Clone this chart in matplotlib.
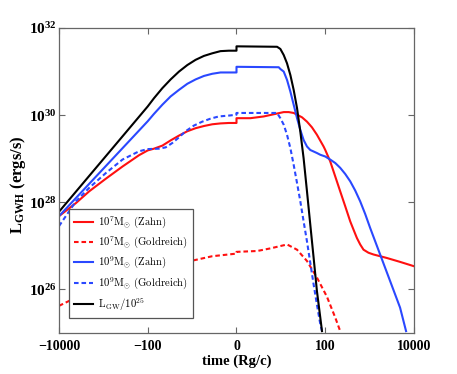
import numpy as np
import matplotlib
matplotlib.use("Agg")
import matplotlib.pyplot as plt
from matplotlib.ticker import NullLocator
from matplotlib.font_manager import FontProperties

plt.rcParams["font.family"] = ["Liberation Serif", "DejaVu Serif"]
plt.rcParams["mathtext.fontset"] = "custom"
plt.rcParams["mathtext.rm"] = "Liberation Serif:bold"
plt.rcParams["mathtext.it"] = "Liberation Serif:italic:bold"
plt.rcParams["mathtext.bf"] = "Liberation Serif:bold"

# ===== Data (time in Rg/c, log10 of luminosity in ergs/s) =====

# 1e7 Msun (Zahn)
t_red = [-10000, -4150, -2085, -879, -370, -157, -100, -92.9, -83.5, -74.2, -64.8,
         -55.4, -46.1, -36.7, -27.3, -18, -8.6, 0, 0, 15.7, 30.7, 41.9, 53.2, 58.8,
         64.4, 68.2, 73.8, 79.4, 85, 90.6, 98.1, 100, 129, 168, 217, 281, 365, 433,
         515, 612, 727, 941, 1218, 2432, 4844, 10000]
lg_red = [27.68, 27.98, 28.25, 28.54, 28.82, 29.08, 29.19, 29.23, 29.30, 29.42, 29.53,
          29.63, 29.70, 29.75, 29.79, 29.81, 29.82, 29.82, 29.93, 29.93, 29.97, 30.02,
          30.07, 30.07, 30.05, 30.01, 29.95, 29.85, 29.72, 29.55, 29.28, 29.20, 28.94,
          28.59, 28.25, 27.91, 27.56, 27.37, 27.18, 27.03, 26.91, 26.84, 26.80, 26.72,
          26.63, 26.53]

# 1e7 Msun (Goldreich)
t_red_g = [-10000, -6000, -1000, -100, -51.7, -27.3, 0, 0, 23.3, 38.2, 57, 68.2,
           79.4, 90.6, 109, 168, 217]
lg_red_g = [25.62, 25.73, 26.10, 26.45, 26.65, 26.76, 26.82, 26.86, 26.88, 26.94,
            27.03, 26.91, 26.65, 26.27, 25.83, 25.35, 25.04]

# 1e9 Msun (Zahn)
t_blue = [-10000, -100, -92.9, -83.5, -74.2, -64.8, -55.4, -46.1, -36.7, -27.3, -18,
          -8.6, 0, 0, 47.6, 49.4, 53.2, 56.9, 60.7, 64.4, 68.2, 71.9, 75.6, 79.4,
          83.1, 90.6, 94.4, 100, 129, 168, 217, 281, 365, 472, 612, 793, 1026, 1722,
          2890, 4844, 6610]
lg_blue = [27.68, 29.86, 30.03, 30.24, 30.43, 30.58, 30.72, 30.82, 30.90, 30.95, 30.98,
           30.98, 30.98, 31.11, 31.10, 31.06, 31.00, 30.81, 30.54, 30.24, 29.93, 29.66,
           29.43, 29.28, 29.20, 29.13, 29.09, 29.05, 28.98, 28.90, 28.79, 28.65, 28.48,
           28.27, 28.02, 27.73, 27.41, 26.80, 26.19, 25.58, 25.04]

# 1e9 Msun (Goldreich)
t_blue_g = [-10000, -4150, -2085, -879, -370, -157, -100, -87.3, -79.8, -72.3, -64.8,
            -57.3, -48, -38.6, -29.2, -19.9, -8.6, 0, 0, 45.7, 49.4, 53.2, 56.9, 60.7,
            64.4, 68.2, 71.9, 75.6, 79.4, 83.1, 86.9, 90.6, 94.4, 96.3]
lg_blue_g = [27.45, 28.02, 28.33, 28.67, 28.98, 29.17, 29.22, 29.23, 29.26, 29.36,
             29.49, 29.63, 29.76, 29.85, 29.92, 29.97, 29.99, 30.01, 30.05, 30.05,
             29.93, 29.78, 29.55, 29.24, 28.86, 28.44, 28.02, 27.56, 27.10, 26.61,
             26.11, 25.65, 25.20, 25.04]

# L_GW / 1e25
t_gw = [-10000, -100, -92.9, -83.5, -74.2, -64.8, -55.4, -46.1, -36.7, -27.3, -18,
        -8.6, 0, 0, 45.7, 49.4, 53.2, 56.9, 60.7, 64.4, 68.2, 71.9, 75.6, 79.4, 83.1,
        86.9, 90.6, 94.4, 96.3]
lg_gw = [27.78, 30.20, 30.39, 30.62, 30.82, 31.00, 31.15, 31.27, 31.36, 31.42, 31.47,
         31.48, 31.48, 31.58, 31.57, 31.52, 31.38, 31.19, 30.92, 30.58, 30.16, 29.62,
         29.01, 28.25, 27.49, 26.72, 25.96, 25.35, 25.04]

labels = [
    r"$10^7\mathrm{M}_{\odot}\ \mathrm{(Zahn)}$",
    r"$10^7\mathrm{M}_{\odot}\ \mathrm{(Goldreich)}$",
    r"$10^9\mathrm{M}_{\odot}\ \mathrm{(Zahn)}$",
    r"$10^9\mathrm{M}_{\odot}\ \mathrm{(Goldreich)}$",
    r"$\mathrm{L_{GW}/10^{25}}$",
]

xticks = [-10000, -100, 0, 100, 10000]
xtick_labels = ["\u221210000", "\u2212100", "0", "100", "10000"]
yticks = [1e26, 1e28, 1e30, 1e32]
ytick_labels = [r"$10^{26}$", r"$10^{28}$", r"$10^{30}$", r"$10^{32}$"]

RED = "#ff1010"
BLUE = "#2a48ff"
dash = (0, (2.2, 1.4))

fig = plt.figure(figsize=(4.57, 3.74), dpi=100)
ax = fig.add_axes([0.129, 0.110, 0.777, 0.815])

ax.plot(t_red, 10 ** np.array(lg_red), color=RED, lw=1.5, label=labels[0])
ax.plot(t_red_g, 10 ** np.array(lg_red_g), color=RED, lw=1.5, ls=dash, label=labels[1])
ax.plot(t_blue, 10 ** np.array(lg_blue), color=BLUE, lw=1.5, label=labels[2])
ax.plot(t_blue_g, 10 ** np.array(lg_blue_g), color=BLUE, lw=1.5, ls=dash, label=labels[3])
ax.plot(t_gw, 10 ** np.array(lg_gw), color="black", lw=1.5, label=labels[4])

ax.set_xscale("symlog", linthresh=100, linscale=1.8)
ax.set_yscale("log")
ax.set_xlim(-10000, 10000)
ax.set_ylim(1e25, 1e32)

ax.set_xticks(xticks)
ax.set_xticklabels(xtick_labels, fontweight="bold", fontsize=10)
ax.set_yticks(yticks)
ax.set_yticklabels(ytick_labels, fontsize=11)
ax.xaxis.set_minor_locator(NullLocator())
ax.yaxis.set_minor_locator(NullLocator())
ax.tick_params(direction="in", top=True, right=True, length=4, width=0.8,
               color="#666666")
ax.tick_params(axis="x", pad=5)
ax.tick_params(axis="y", pad=1.5)

for s in ax.spines.values():
    s.set_color("#666666")
    s.set_linewidth(0.9)

ax.set_xlabel("time (Rg/c)", fontsize=10.5, fontweight="bold", labelpad=1)
ax.set_ylabel(r"$\mathrm{L_{GWH}}$ (ergs/s)", fontsize=12, fontweight="bold")
ax.yaxis.set_label_coords(-0.088, 0.485)

leg = ax.legend(loc="lower left", bbox_to_anchor=(0.028, 0.049), borderaxespad=0,
                prop=FontProperties(size=7.7, math_fontfamily="cm"),
                fancybox=False, framealpha=1, edgecolor="#555555",
                handlelength=1.8, labelspacing=0.4, borderpad=0.5, handletextpad=0.4)
leg.get_frame().set_linewidth(0.9)

fig.savefig("out.png", dpi=100)
